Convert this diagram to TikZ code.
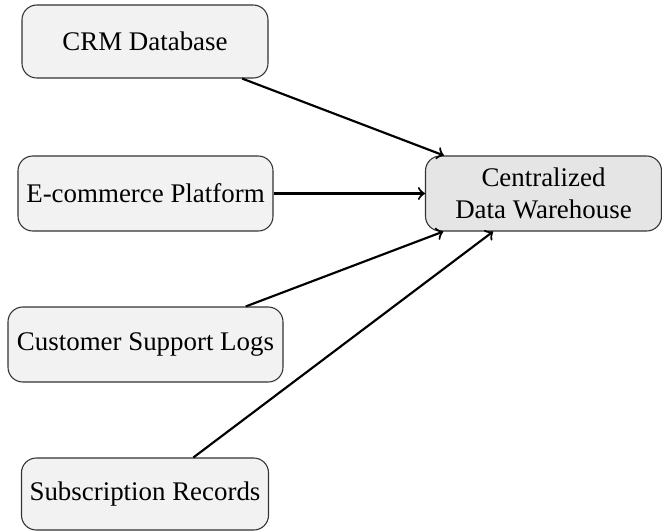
\documentclass[tikz,border=0pt]{standalone}
\usepackage{fontspec}
\setmainfont{Liberation Serif}
\begin{document}
\begin{tikzpicture}[x=0.3717pt,y=-0.3717pt,
  srcbox/.style={draw=black!80, fill=gray!10, rounded corners=5.5pt, align=center, inner sep=3pt, font=\fontsize{10}{12}\selectfont},
  whbox/.style={srcbox, fill=gray!20},
  conn/.style={->, thick}]
\useasboundingbox (0,0) rectangle (662,531);
\node[srcbox, minimum width=246*0.3717pt, minimum height=73*0.3717pt] (crm) at (145,41.5) {CRM Database};
\node[srcbox, minimum width=255*0.3717pt, minimum height=75*0.3717pt] (ecom) at (145.5,193.5) {E-commerce Platform};
\node[srcbox, minimum width=275*0.3717pt, minimum height=75*0.3717pt] (sup) at (145.5,344.5) {Customer Support Logs};
\node[srcbox, minimum width=246*0.3717pt, minimum height=72*0.3717pt] (sub) at (145,494) {Subscription Records};
\node[whbox, minimum width=236*0.3717pt, minimum height=75*0.3717pt] (wh) at (543.5,193.5) {Centralized\\Data Warehouse};
\draw[conn] (crm) -- (wh);
\draw[conn] (ecom) -- (wh);
\draw[conn] (sup) -- (wh);
\draw[conn] (sub) -- (wh);
\end{tikzpicture}
\end{document}
